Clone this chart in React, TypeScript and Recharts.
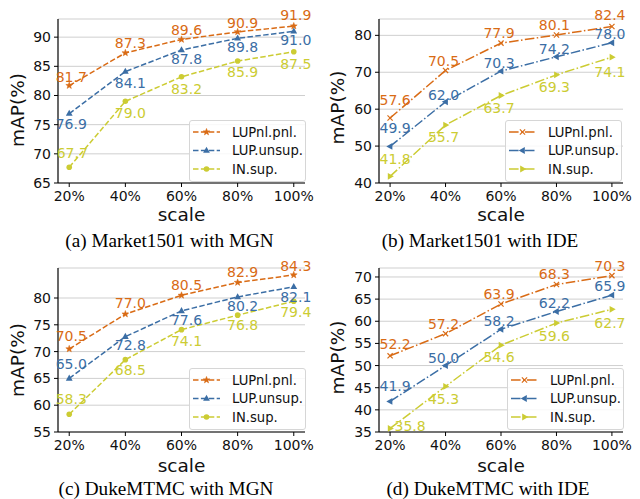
import React from 'react';
import { LineChart, Line, XAxis, YAxis, CartesianGrid, LabelList, Legend } from 'recharts';

// ---------- data ----------
const scales = [20, 40, 60, 80, 100];
const seriesNames = ['LUPnl.pnl.', 'LUP.unsup.', 'IN.sup.'];

const marketMgnPnl = [81.7, 87.3, 89.6, 90.9, 91.9];
const marketMgnUnsup = [76.9, 84.1, 87.8, 89.8, 91.0];
const marketMgnSup = [67.7, 79.0, 83.2, 85.9, 87.5];

const marketIdePnl = [57.6, 70.5, 77.9, 80.1, 82.4];
const marketIdeUnsup = [49.9, 62.0, 70.3, 74.2, 78.0];
const marketIdeSup = [41.8, 55.7, 63.7, 69.3, 74.1];

const dukeMgnPnl = [70.5, 77.0, 80.5, 82.9, 84.3];
const dukeMgnUnsup = [65.0, 72.8, 77.6, 80.2, 82.1];
const dukeMgnSup = [58.3, 68.5, 74.1, 76.8, 79.4];

const dukeIdePnl = [52.2, 57.2, 63.9, 68.3, 70.3];
const dukeIdeUnsup = [41.9, 50.0, 58.2, 62.2, 65.9];
const dukeIdeSup = [35.8, 45.3, 54.6, 59.6, 62.7];

const yTicksA = [65, 70, 75, 80, 85, 90];
const yTicksB = [40, 50, 60, 70, 80];
const yTicksC = [55, 60, 65, 70, 75, 80];
const yTicksD = [35, 40, 45, 50, 55, 60, 65, 70];

const xTitle = 'scale';
const yTitle = 'mAP(%)';

const captions = [
  '(a) Market1501 with MGN',
  '(b) Market1501 with IDE',
  '(c) DukeMTMC with MGN',
  '(d) DukeMTMC with IDE',
];

// ---------- styling ----------
const FONT = '"DejaVu Sans", sans-serif';
const COLORS = ['#d96b15', '#3b6ea5', '#cccc33'];
const MGN = { dash: '5.5 2.4', markers: ['star', 'triUp', 'circle'] };
const IDE = { dash: '9.6 2.4 1.5 2.4', markers: ['x', 'triLeft', 'triRight'] };

const buildRows = (series: number[][]) =>
  scales.map((s, i) => ({ scale: s, s0: series[0][i], s1: series[1][i], s2: series[2][i] }));

const upperLimit = (series: number[][]) => {
  const all = series.flat();
  const mx = Math.max(...all);
  const mn = Math.min(...all);
  return mx + 0.05 * (mx - mn);
};

const Marker = ({ shape, cx, cy, color }: any) => {
  if (cx == null || cy == null) return null;
  switch (shape) {
    case 'star': {
      const pts: string[] = [];
      for (let k = 0; k < 10; k++) {
        const r = k % 2 === 0 ? 3.6 : 1.5;
        const a = -Math.PI / 2 + (k * Math.PI) / 5;
        pts.push(`${cx + r * Math.cos(a)},${cy + r * Math.sin(a)}`);
      }
      return <polygon points={pts.join(' ')} fill={color} stroke={color} strokeWidth={0.5} />;
    }
    case 'triUp':
      return <polygon points={`${cx},${cy - 3.8} ${cx + 3.4},${cy + 2.3} ${cx - 3.4},${cy + 2.3}`} fill={color} />;
    case 'triLeft':
      return <polygon points={`${cx - 3.8},${cy} ${cx + 2.3},${cy - 3.4} ${cx + 2.3},${cy + 3.4}`} fill={color} />;
    case 'triRight':
      return <polygon points={`${cx + 3.8},${cy} ${cx - 2.3},${cy - 3.4} ${cx - 2.3},${cy + 3.4}`} fill={color} />;
    case 'circle':
      return <circle cx={cx} cy={cy} r={2.8} fill={color} />;
    case 'x':
      return (
        <g stroke={color} strokeWidth={1.2}>
          <line x1={cx - 2.6} y1={cy - 2.6} x2={cx + 2.6} y2={cy + 2.6} />
          <line x1={cx - 2.6} y1={cy + 2.6} x2={cx + 2.6} y2={cy - 2.6} />
        </g>
      );
    default:
      return null;
  }
};

const makeLabel = (dx: number[], dy: number[], color: string) => (props: any) => {
  const x = props.x ?? props.viewBox?.x;
  const y = props.y ?? props.viewBox?.y;
  const i = props.index ?? 0;
  return (
    <text
      x={Number(x) + dx[i]}
      y={Number(y) + dy[i]}
      textAnchor="middle"
      dominantBaseline="central"
      fill={color}
      fontSize={14}
      fontFamily={FONT}
    >
      {Number(props.value).toFixed(1)}
    </text>
  );
};

const LegendBox = ({ style }: any) => (
  <div
    style={{
      width: 117,
      height: 62,
      boxSizing: 'border-box',
      border: '1px solid #d6d6d6',
      borderRadius: 3,
      background: 'rgba(255,255,255,0.85)',
      position: 'relative',
    }}
  >
    <svg width={117} height={62} style={{ position: 'absolute', left: -1, top: -1, overflow: 'visible' }}>
      {seriesNames.map((n, i) => {
        const y = 12 + i * 18.5;
        return (
          <g key={n}>
            <line x1={4} x2={31} y1={y} y2={y} stroke={COLORS[i]} strokeWidth={1.5} strokeDasharray={style.dash} />
            <Marker shape={style.markers[i]} cx={17.5} cy={y} color={COLORS[i]} />
            <text x={43} y={y} dominantBaseline="central" fontSize={13.2} fontFamily={FONT} fill="#111">
              {n}
            </text>
          </g>
        );
      })}
    </svg>
  </div>
);

const panels = [
  {
    left: 0, top: 0, series: [marketMgnPnl, marketMgnUnsup, marketMgnSup], yTicks: yTicksA, yMin: 65,
    style: MGN, mTop: 19, yW: 58, mRight: 15, xH: 67, xTitleY: 221, yLabel: [17, 110],
    legend: [189, 120],
    dx: [[2, 5, 5, 5, 2], [2, 5, 5, 5, 2], [3, 5, 5, 5, 2]],
    dy: [[-9, -10, -9, -9, -11], [10, 11, 9, 9, 9], [-14, 12, 12, 11, 12]],
  },
  {
    left: 320, top: 0, series: [marketIdePnl, marketIdeUnsup, marketIdeSup], yTicks: yTicksB, yMin: 40,
    style: IDE, mTop: 19, yW: 59, mRight: 17, xH: 67, xTitleY: 221, yLabel: [17.5, 107.5],
    legend: [185, 120],
    dx: [[5, -2, -2, -2, -2], [5, -2, -2, -2, -2], [5, -2, -2, -2, -2]],
    dy: [[-18, -9, -10, -10, -11], [-18, -7, -8, -8, -9], [-17, 12, 12, 12, 15]],
  },
  {
    left: 0, top: 250, series: [dukeMgnPnl, dukeMgnUnsup, dukeMgnSup], yTicks: yTicksC, yMin: 55,
    style: MGN, mTop: 18, yW: 58, mRight: 15, xH: 68, xTitleY: 221.5, yLabel: [17, 110],
    legend: [189, 118],
    dx: [[2, 5, 5, 5, 2], [2, 5, 5, 5, 2], [2, 5, 5, 5, 2]],
    dy: [[-13, -11, -10, -10, -9], [-14, 8, 9, 9, 10], [-15, 10, 11, 10, 11]],
  },
  {
    left: 320, top: 250, series: [dukeIdePnl, dukeIdeUnsup, dukeIdeSup], yTicks: yTicksD, yMin: 35,
    style: IDE, mTop: 18, yW: 59, mRight: 17, xH: 68, xTitleY: 221.5, yLabel: [17.5, 107.5],
    legend: [187, 118],
    dx: [[5, -2, -2, -2, -2], [5, -2, -2, -2, -2], [20, -2, -2, -2, -2]],
    dy: [[-12, -10, -10, -10, -10], [-15, -8, -8, -9, -9], [-2, 13, 12, 13, 14]],
  },
];

const captionPos = [
  [169.5, 247],
  [480, 247],
  [166, 494.5],
  [488, 494.5],
];

const Panel = ({ p }: any) => {
  const data = buildRows(p.series);
  const yMax = upperLimit(p.series);
  const tickStyle = { fontSize: 14, fontFamily: FONT, fill: '#111' };
  const plotCenterX = p.yW + (320 - p.mRight - p.yW) / 2;
  return (
    <div style={{ position: 'absolute', left: p.left, top: p.top, width: 320, height: 250 }}>
      <LineChart width={320} height={250} data={data} margin={{ top: p.mTop, right: p.mRight, left: 0, bottom: 0 }}>
        <CartesianGrid horizontal vertical={false} stroke="#cfcfcf" strokeWidth={1} />
        <XAxis
          dataKey="scale"
          type="number"
          domain={[16, 104]}
          ticks={scales}
          interval={0}
          tickFormatter={(v: number) => `${v}%`}
          height={p.xH}
          tickSize={4}
          tickMargin={4}
          tick={tickStyle}
          stroke="#000"
          axisLine={{ stroke: '#000', strokeWidth: 1.2 }}
          tickLine={{ stroke: '#000' }}
        />
        <YAxis
          type="number"
          domain={[p.yMin, yMax]}
          ticks={p.yTicks}
          interval={0}
          allowDataOverflow
          width={p.yW}
          tickSize={4}
          tickMargin={3}
          tick={tickStyle}
          stroke="#000"
          axisLine={{ stroke: '#000', strokeWidth: 1.2 }}
          tickLine={{ stroke: '#000' }}
        />
        {[0, 1, 2].map((i) => (
          <Line
            key={i}
            type="linear"
            dataKey={`s${i}`}
            name={seriesNames[i]}
            stroke={COLORS[i]}
            strokeWidth={1.5}
            strokeDasharray={p.style.dash}
            isAnimationActive={false}
            dot={(dp: any) => (
              <Marker key={`d${i}-${dp.index}`} shape={p.style.markers[i]} cx={dp.cx} cy={dp.cy} color={COLORS[i]} />
            )}
            activeDot={false}
          >
            <LabelList dataKey={`s${i}`} content={makeLabel(p.dx[i], p.dy[i], COLORS[i])} />
          </Line>
        ))}
        <Legend
          layout="vertical"
          align="center"
          verticalAlign="middle"
          content={() => <LegendBox style={p.style} />}
          wrapperStyle={{ position: 'absolute', left: p.legend[0], top: p.legend[1], width: 117, height: 62, bottom: 'auto' }}
        />
      </LineChart>
      <svg
        width={320}
        height={250}
        style={{ position: 'absolute', left: 0, top: 0, pointerEvents: 'none', overflow: 'visible' }}
      >
        <text x={plotCenterX} y={p.xTitleY} textAnchor="middle" fontSize={18.5} fontFamily={FONT} fill="#111">
          {xTitle}
        </text>
        <text
          x={p.yLabel[0]}
          y={p.yLabel[1]}
          transform={`rotate(-90, ${p.yLabel[0]}, ${p.yLabel[1]})`}
          textAnchor="middle"
          dominantBaseline="central"
          fontSize={18.5}
          fontFamily={FONT}
          fill="#111"
        >
          {yTitle}
        </text>
      </svg>
    </div>
  );
};

export default function App() {
  return (
    <div style={{ position: 'absolute', left: 0, top: 0, width: 640, height: 499, background: '#fff', overflow: 'hidden' }}>
      {panels.map((p, i) => (
        <Panel key={i} p={p} />
      ))}
      <svg width={640} height={499} style={{ position: 'absolute', left: 0, top: 0, pointerEvents: 'none' }}>
        {captions.map((c, i) => (
          <text
            key={c}
            x={captionPos[i][0]}
            y={captionPos[i][1]}
            textAnchor="middle"
            fontSize={19.2}
            fontFamily='"Liberation Serif", "Times New Roman", serif'
            fill="#000"
          >
            {c}
          </text>
        ))}
      </svg>
    </div>
  );
}
